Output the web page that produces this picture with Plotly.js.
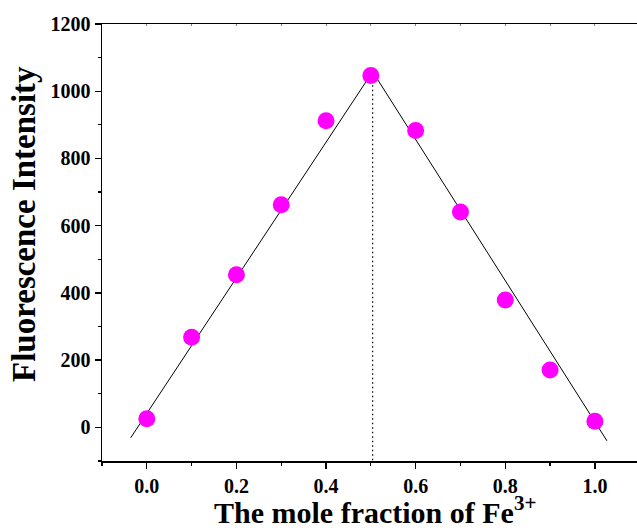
<!DOCTYPE html>
<html>
<head>
<meta charset="utf-8">
<script src="https://cdn.plot.ly/plotly-3.0.1.min.js"></script>
<style>html,body{margin:0;padding:0;background:#fff;}#chart{width:637px;height:531px;}</style>
</head>
<body>
<div id="chart"></div>
<script>
// Data
const moleFraction = [0.0, 0.1, 0.2, 0.3, 0.4, 0.5, 0.6, 0.7, 0.8, 0.9, 1.0];
const intensity = [26, 268, 454, 662, 912, 1047, 883, 641, 379, 171, 18];
// Linear fit lines (endpoints)
const leftFitX = [-0.036, 0.504];
const leftFitY = [-31, 1058];
const rightFitX = [0.504, 1.027];
const rightFitY = [1058, -40];
const dropX = [0.504, 0.504];
const dropY = [1058, -100];
const xTickVals = [0, 0.2, 0.4, 0.6, 0.8, 1.0];
const xTickText = ['0.0', '0.2', '0.4', '0.6', '0.8', '1.0'];
const yTickVals = [0, 200, 400, 600, 800, 1000, 1200];

const fontFam = '"Liberation Serif", "Times New Roman", serif';

const traces = [
  {x: leftFitX, y: leftFitY, mode: 'lines', line: {color: '#000', width: 1}, hoverinfo: 'skip', showlegend: false},
  {x: rightFitX, y: rightFitY, mode: 'lines', line: {color: '#000', width: 1}, hoverinfo: 'skip', showlegend: false},
  {x: dropX, y: dropY, mode: 'lines', line: {color: '#000', width: 1.2, dash: '1.5px,3px'}, hoverinfo: 'skip', showlegend: false},
  {x: moleFraction, y: intensity, mode: 'markers', marker: {color: '#ff00ff', size: 17, line: {width: 0}}, showlegend: false},
  {x: [null], y: [null], xaxis: 'x2', yaxis: 'y', mode: 'markers', showlegend: false, hoverinfo: 'skip'}
];

const layout = {
  width: 637, height: 531,
  margin: {l: 102, r: 0, t: 24, b: 70},
  paper_bgcolor: '#fff', plot_bgcolor: '#fff',
  font: {family: fontFam, color: '#000'},
  showlegend: false,
  xaxis: {
    range: [-0.1, 1.094],
    tickvals: xTickVals,
    ticktext: xTickText,
    ticks: 'outside', ticklen: 6, tickwidth: 1.3, tickcolor: '#000',
    minor: {dtick: 0.1, tick0: 0, ticks: 'outside', ticklen: 3, tickwidth: 1.2, tickcolor: '#000'},
    showline: true, linecolor: '#000', linewidth: 1.5,
    showgrid: false, zeroline: false,
    tickfont: {family: fontFam, size: 20, weight: 'bold', color: '#000'}
  },
  xaxis2: {
    overlaying: 'x', side: 'top', matches: 'x', range: [-0.1, 1.094],
    tickvals: [0, 0.1, 0.2, 0.3, 0.4, 0.5, 0.6, 0.7, 0.8, 0.9, 1.0],
    ticks: 'inside', ticklen: 2, tickcolor: '#888', showticklabels: false,
    showline: true, linecolor: '#000', linewidth: 1.5,
    showgrid: false, zeroline: false
  },
  yaxis: {
    range: [-100, 1200],
    tickvals: yTickVals,
    ticks: 'outside', ticklen: 6, tickwidth: 1.3, tickcolor: '#000',
    minor: {dtick: 100, tick0: 0, ticks: 'outside', ticklen: 3, tickwidth: 1.2, tickcolor: '#000'},
    showline: true, linecolor: '#000', linewidth: 1.5,
    showgrid: false, zeroline: false,
    tickfont: {family: fontFam, size: 20, weight: 'bold', color: '#000'}
  },
  annotations: [
    {text: 'Fluorescence Intensity', xref: 'paper', yref: 'paper',
     x: (24 - 102) / 535, y: (461 - 224) / 437, xanchor: 'center', yanchor: 'middle',
     textangle: -90, showarrow: false,
     font: {family: fontFam, size: 33, weight: 'bold', color: '#000'}},
    {text: 'The mole fraction of Fe<sup>3+</sup>', xref: 'paper', yref: 'paper',
     x: (375 - 102) / 535, y: (461 - 510) / 437, xanchor: 'center', yanchor: 'middle',
     showarrow: false,
     font: {family: fontFam, size: 30, weight: 'bold', color: '#000'}}
  ]
};

Plotly.newPlot('chart', traces, layout, {displayModeBar: false, staticPlot: true});
</script>
</body>
</html>
